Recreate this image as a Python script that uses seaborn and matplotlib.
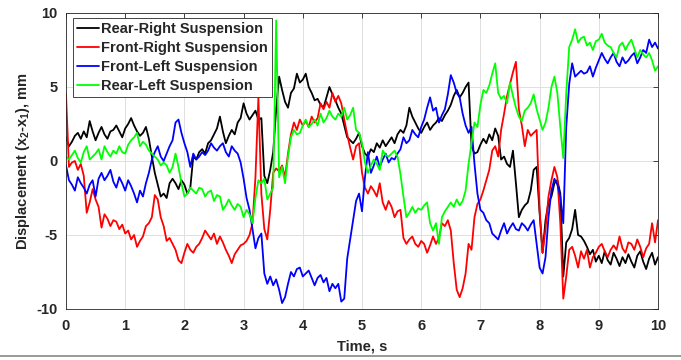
import numpy as np
import pandas as pd
import seaborn as sns
import matplotlib.pyplot as plt
from matplotlib.lines import Line2D

# sample times, 0.05 s step
time_s = np.round(np.arange(201) * 0.05, 2)

rear_right = [
    1.6, 1.0, 1.3, 1.7, 1.9, 1.5, 2.0, 1.6, 2.7, 2.0,
    1.4, 1.9, 2.3, 1.8, 1.5, 2.0, 2.1, 2.4, 2.0, 1.6,
    2.2, 2.5, 2.9, 2.4, 2.0, 1.7, 1.9, 2.3, 1.5, 0.3,
    -0.8, -1.6, -2.4, -2.2, -2.5, -1.5, -1.2, -1.5, -1.9, -1.3,
    -1.6, -2.2, -1.8, 0.3, 0.1, 0.6, 0.8, 0.5, 1.2, 1.4,
    1.8, 2.2, 3.0, 2.0, 1.2, 1.7, 2.1, 1.8, 2.6, 2.9,
    3.9, 3.2, 2.8, 3.1, 3.4, 2.8, 2.9, -1.0, -1.5, -0.6,
    0.6, 3.5, 5.7, 4.8, 4.0, 3.6, 4.6, 4.9, 5.9, 5.3,
    5.5, 5.9, 5.0, 4.6, 4.1, 4.2, 3.8, 3.6, 4.3, 5.0,
    4.5, 4.1, 3.6, 3.2, 2.4, 1.6, 1.4, 1.2, 1.5, 1.9,
    1.0, 0.5, 0.3, 0.8, 0.6, 1.2, 0.9, 1.4, 1.0, 1.3,
    1.6, 1.2, 1.8, 2.1, 1.9, 2.4, 3.6, 3.0, 2.6, 2.2,
    1.9, 2.3, 2.6, 2.1, 2.4, 2.6, 2.9, 2.7, 3.1, 3.4,
    3.8, 4.4, 4.8, 4.3, 4.6, 5.0, 5.3, 1.0, 0.5, 0.6,
    1.1, 1.5, 1.2, 1.8, 1.4, 2.2, 1.7, 0.1, 0.3, -0.2,
    -0.4, 0.7, -1.5, -3.8, -3.3, -3.0, -2.8, -2.0, -0.6, -0.4,
    -3.5, -6.2, -4.0, -2.8, -2.4, -1.5, -1.3, -2.2, -7.8, -5.5,
    -5.2, -4.6, -3.3, -5.0, -5.1, -5.4, -5.8, -6.3, -6.0, -6.8,
    -6.4, -6.9, -6.1, -6.7, -7.0, -6.2, -6.6, -7.1, -6.5, -6.9,
    -6.3, -6.8, -7.2, -6.4, -6.1, -6.8, -7.3, -6.6, -6.2, -7.0,
    -6.5,
]

front_right = [
    4.5, -0.4, -0.1, 0.0, -0.6, -0.2, -1.0, -3.5, -2.8, -1.9,
    -2.6, -3.1, -4.5, -3.6, -3.9, -4.4, -4.0, -4.1, -4.6, -4.3,
    -4.9, -4.7, -5.3, -5.0, -5.8, -5.4, -5.1, -4.4, -4.2, -3.8,
    -2.3, -2.6, -3.8, -4.4, -5.4, -5.2, -5.6, -6.0, -6.7, -6.9,
    -6.2, -5.6, -6.0, -6.2, -5.8, -5.6, -5.2, -4.7, -5.0, -5.3,
    -4.9, -5.6, -5.1, -5.5, -6.0, -6.4, -6.9, -6.3, -6.0, -5.7,
    -5.6, -5.4, -5.0, -4.2, -1.1, 4.3, -2.2, -4.6, -5.3, -3.3,
    -0.8, -0.5, -0.7, -0.3, -1.1, 0.5, 1.8, 2.6, 2.1, 2.8,
    2.4, 2.7, 2.3, 3.0, 2.6, 2.9, 3.9, 3.5, 4.0, 3.6,
    4.6, 4.0, 4.4, 3.9, 2.8, 1.8, 0.9, 0.1, 1.0, 1.2,
    -0.8, -1.8, -2.2, -1.7, -2.0, -2.4, -1.5, -2.8, -3.3, -2.7,
    -3.1, -3.8, -3.4, -3.3, -5.2, -5.6, -5.3, -5.1, -5.6, -5.8,
    -5.4, -5.6, -6.2, -5.7, -5.1, -5.6, -5.2, -4.2, -4.4, -4.0,
    -4.7, -6.9, -8.7, -9.2, -8.6, -7.6, -5.6, -6.0, -3.8, -2.9,
    -2.6, -2.0, -1.3, -0.6, 0.7, 1.0, 0.3, 2.1, 3.2, 4.4,
    5.2, 6.0, 6.7, 3.5, 2.4, 1.0, 2.1, 1.7, 1.9, 2.1,
    -3.3, -6.2, -4.6, -2.4, -1.3, -0.4, -1.1, -4.2, -9.3, -7.8,
    -6.0, -5.8, -6.4, -7.2, -6.1, -6.6, -6.0, -7.2, -6.5, -6.2,
    -5.8, -5.6, -6.1, -6.5, -6.0, -5.7, -6.0, -5.1, -5.9, -6.2,
    -5.5, -5.6, -6.0, -5.3, -5.8, -6.5, -5.9, -5.6, -4.2, -5.5,
    -4.0,
]

front_left = [
    -0.3, -1.3, -1.6, -2.0, -1.1, -1.5, -1.8, -2.2, -1.6, -1.3,
    -2.4, -1.2, -0.8, -1.3, -1.0, -0.6, -1.4, -1.8, -1.1, -1.5,
    -2.0, -1.3, -1.7, -2.2, -2.8, -2.0, -2.4, -1.5, -0.8, 0.1,
    0.6, 1.0, 0.3, 0.0, 0.5, 1.0, 1.4, 2.6, 2.8, 1.9,
    1.2, 0.6, -0.4, 0.5, 0.1, 0.3, 0.6, 0.4, 0.7, 1.2,
    0.9, 0.7, 1.0, 1.2, 0.6, 0.3, 1.0, 0.7, 0.5, -0.1,
    -1.2, -2.5, -3.3, -4.6, -5.9, -5.2, -4.9, -7.6, -8.3, -7.8,
    -8.4, -8.0, -8.7, -9.6, -9.2, -8.3, -7.5, -7.8, -7.3, -7.2,
    -7.8, -7.6, -7.4, -7.9, -8.4, -7.9, -7.7, -8.2, -7.9, -8.8,
    -8.3, -8.6, -8.3, -9.5, -9.3, -6.6, -5.3, -4.0, -2.7, -2.2,
    -3.4, -1.1, 0.6, -0.8, -0.3, 0.3, -0.4, 0.1, 0.5, -0.1,
    0.2, 0.1, 0.5, 0.8, 1.6, 1.2, 1.4, 2.1, 1.8, 1.6,
    2.3, 2.8, 3.6, 4.3, 3.4, 3.6, 2.6, 3.1, 3.5, 4.5,
    5.8, 5.3, 4.6, 4.3, 3.2, 2.4, 1.9, 2.3, -0.2, -2.2,
    -3.3, -3.5, -4.0, -4.2, -4.9, -5.1, -5.3, -4.7, -4.2, -4.9,
    -4.5, -4.2, -4.6, -4.7, -4.2, -4.4, -4.7, -4.3, -4.0, -5.6,
    -7.2, -7.6, -6.5, -3.8, -2.0, -1.2, -1.6, -2.4, -4.2, 2.3,
    5.2, 6.6, 5.7, 5.9, 6.1, 5.9, 6.0, 6.4, 5.7, 6.3,
    6.8, 7.3, 6.9, 6.6, 7.0, 7.3, 6.7, 6.4, 7.0, 6.6,
    6.8, 7.1, 7.3, 6.6, 7.0, 7.5, 7.3, 8.2, 7.7, 8.0,
    7.6,
]

rear_left = [
    0.3, 0.1, 0.4, 0.7, 0.2, -0.1, 0.6, 1.0, 0.1, 0.3,
    0.5, 0.8, 0.1, 1.0, 0.6, 0.3, 0.7, 0.5, 1.0, 0.6,
    0.5, 1.1, 1.4, 1.6, 1.9, 1.0, 1.3, 1.1, 0.7, 0.5,
    0.3, 0.1, -0.3, -0.1, -0.3, -0.8, -0.4, 0.5, -0.4, -1.5,
    -2.4, -2.2, -1.8, -2.0, -2.2, -1.8, -1.9, -2.4, -2.1, -2.0,
    -2.7, -2.3, -2.4, -3.3, -3.0, -2.6, -3.0, -3.3, -2.9, -3.1,
    -3.8, -3.3, -3.6, -4.2, -2.5, -1.3, -1.5, -1.2, -2.6, -2.2,
    -1.8, 9.5, -1.1, -0.4, -1.5, 0.3, 1.6, 2.1, 1.8, 1.9,
    2.4, 2.8, 2.3, 2.5, 2.8, 2.4, 3.2, 2.6, 2.9, 3.4,
    3.0, 2.8, 3.2, 3.0, 3.6, 2.8, 3.1, 3.6, 2.1, 1.9,
    1.2, -0.1, -0.8, -0.3, 0.1, -0.2, -0.6, 0.7, 0.4, 0.3,
    0.5, 0.7, 0.3, -0.9, -2.4, -3.8, -3.5, -3.1, -3.5, -3.2,
    -3.3, -3.0, -2.8, -4.2, -4.7, -4.2, -5.6, -3.8, -3.4, -3.1,
    -2.8, -3.1, -2.6, -3.0, -2.7, -2.0, -0.2, 1.2, 2.6, 2.3,
    3.8, 4.8, 4.6, 5.1, 5.9, 6.6, 4.6, 4.2, 4.4, 3.9,
    5.3, 4.4, 3.6, 3.0, 2.7, 3.4, 3.6, 3.9, 4.5, 3.5,
    2.8, 2.1, 2.6, 3.6, 5.0, 5.7, 4.6, 2.3, 0.2, 4.6,
    7.7, 8.2, 8.9, 8.0, 8.3, 8.4, 7.8, 8.0, 7.5, 8.1,
    8.2, 8.6, 8.0, 7.8, 7.7, 7.3, 7.0, 7.8, 8.0, 7.5,
    7.9, 8.2, 7.6, 7.0, 7.5, 7.2, 7.0, 7.3, 6.8, 6.1,
    6.4,
]

labels = ["Rear-Right Suspension", "Front-Right Suspension",
          "Front-Left Suspension", "Rear-Left Suspension"]
colors = ["#000000", "#ff0000", "#0000ff", "#00ff00"]
x_ticks = list(range(0, 11))
y_ticks = [-10, -5, 0, 5, 10]

sns.set_theme(style="white")
plt.rcParams["font.family"] = ["Liberation Sans", "DejaVu Sans"]
plt.rcParams["font.weight"] = "bold"
plt.rcParams["axes.unicode_minus"] = False
plt.rcParams["mathtext.fontset"] = "custom"
plt.rcParams["mathtext.rm"] = "Liberation Sans:bold"
plt.rcParams["mathtext.it"] = "Liberation Sans:bold"
plt.rcParams["mathtext.bf"] = "Liberation Sans:bold"

fig = plt.figure(figsize=(6.81, 3.60), dpi=100)
ax = fig.add_axes([66 / 681, 1 - 309 / 360, 592 / 681, 296 / 360])

for vals, lab, col in zip([rear_right, front_right, front_left, rear_left], labels, colors):
    sns.lineplot(x=time_s, y=vals, color=col, label=lab, linewidth=1.3, ax=ax)

ax.set_xlim(0, 10)
ax.set_ylim(-10, 10)
ax.set_xticks(x_ticks)
ax.set_yticks(y_ticks)
ax.grid(True, color="#e0e0e0", linewidth=0.7)
ax.set_axisbelow(True)
ax.tick_params(direction="in", top=True, right=True, length=3.5, width=0.6,
               color="#262626", labelsize=10.5, labelcolor="#262626")
ax.tick_params(axis="x", pad=7)
ax.tick_params(axis="y", pad=6)
for s in ax.spines.values():
    s.set_color("#262626")
    s.set_linewidth(0.6)

ax.set_xlabel("Time, s", fontsize=10.5, fontweight="bold", color="#262626", labelpad=5)
ax.set_ylabel(r"Displacement (x$_2$-x$_1$), mm", fontsize=10.5, fontweight="bold",
              color="#262626", labelpad=3)

leg = ax.legend(loc="upper left", bbox_to_anchor=(7 / 592, 1 - 5 / 296), borderaxespad=0,
                fontsize=10.5, frameon=True, fancybox=False, edgecolor="#262626",
                framealpha=1, borderpad=0.25, handlelength=1.5, handletextpad=0.2,
                labelspacing=0.35)
leg.get_frame().set_linewidth(0.6)

# thin gray rule at the very bottom of the image
fig.add_artist(Line2D([0, 1], [0.01, 0.01], color="#888888", linewidth=1.2))

fig.savefig("out.png", dpi=100)
